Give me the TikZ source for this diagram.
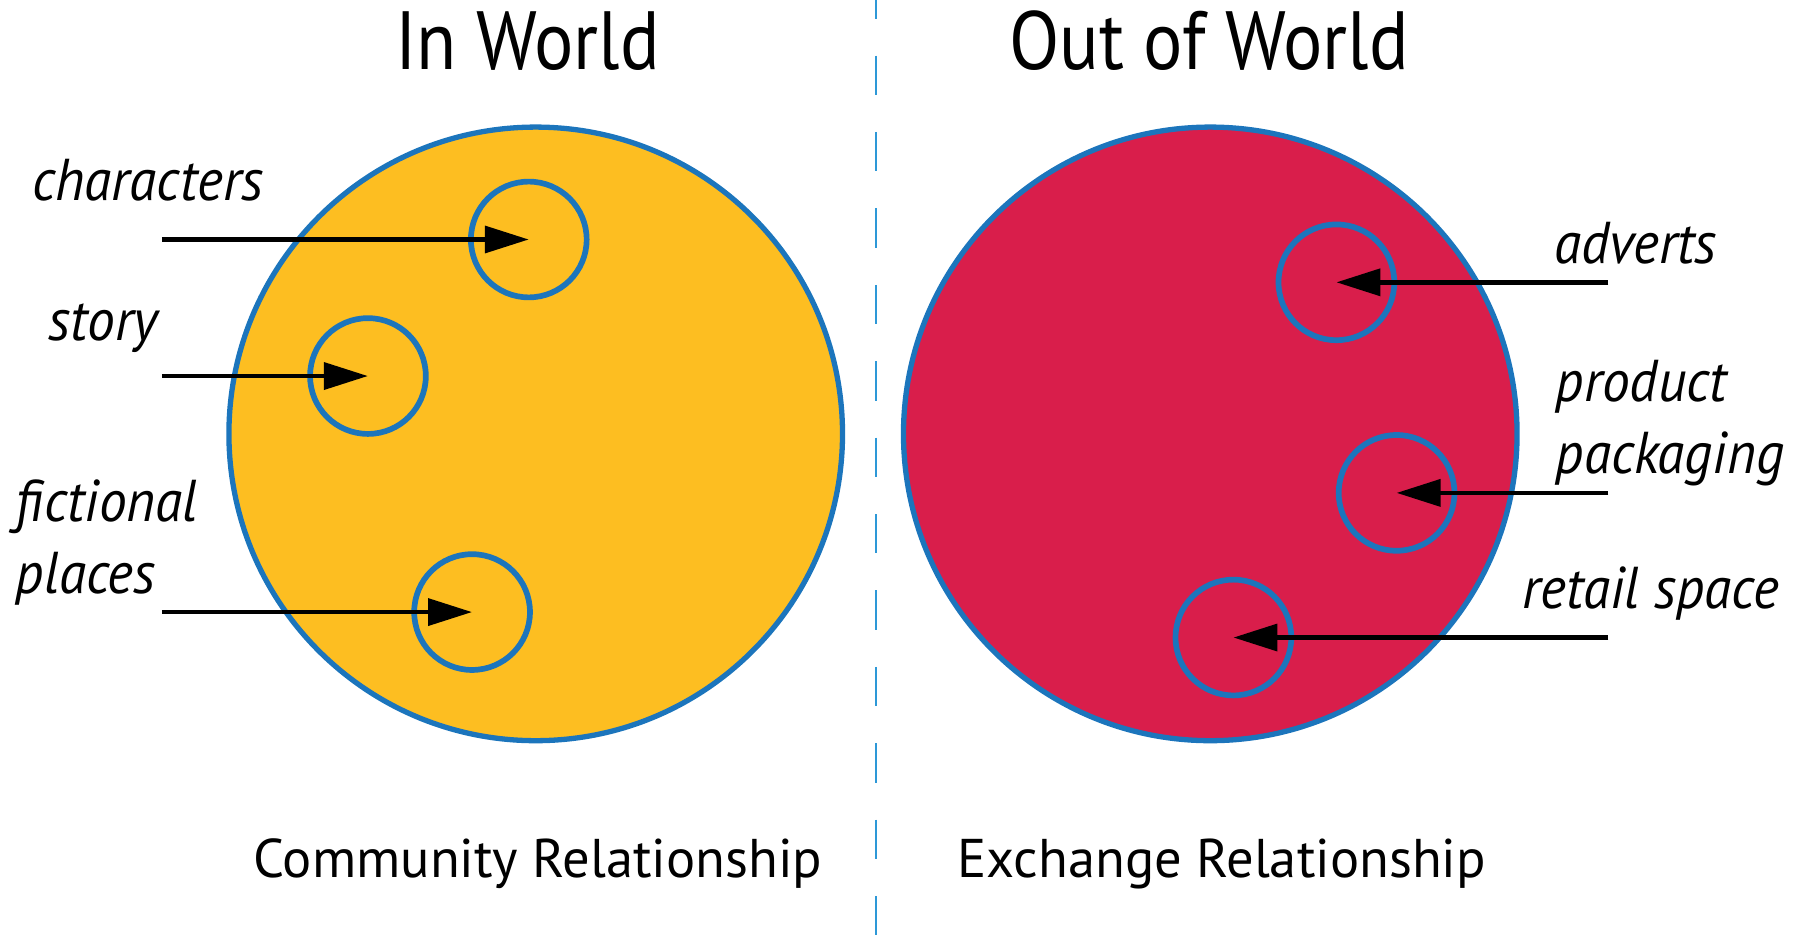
\documentclass[tikz,border=0pt]{standalone}
\usepackage{fontspec}
\setmainfont{PT Sans}
\newfontfamily\headfont{PT Sans}[FakeStretch=0.89]
\newfontfamily\lblfont{PT Sans}[FakeStretch=0.94]
\usetikzlibrary{arrows.meta}
\definecolor{ringblue}{RGB}{28,117,188}
\definecolor{dashblue}{RGB}{45,152,215}
\definecolor{inyellow}{RGB}{253,190,33}
\definecolor{outred}{RGB}{217,30,75}
\begin{document}
\begin{tikzpicture}[x=0.01cm,y=-0.01cm,
  world/.style={circle,draw=ringblue,line width=1.3pt,minimum size=5.3cm,inner sep=0pt},
  spot/.style={circle,draw=ringblue,line width=1.4pt,minimum size=1cm,inner sep=0pt},
  pointer/.style={line width=1.15pt,-{Triangle[length=0.38cm,width=0.23cm]}},
  lbl/.style={anchor=base west,inner sep=0pt,align=left,font=\lblfont\fontsize{14.5}{17.6}\selectfont\itshape},
  head/.style={anchor=base,inner sep=0pt,font=\headfont\fontsize{20.3}{24}\selectfont},
  foot/.style={anchor=base,inner sep=0pt,font=\fontsize{13.4}{16}\selectfont}]
\useasboundingbox (0,0) rectangle (1560,810);
% divider
\coordinate (top) at (757,0);
\coordinate (bot) at (757,810);
\draw[dashblue,line width=0.6pt,dash pattern=on 0.34cm off 0.32cm,dash phase=0.18cm] (top) -- (bot);
% the two worlds
\node[world,fill=inyellow] (inworld) at (463,375) {};
\node[world,fill=outred] (outworld) at (1046,375) {};
\node[head] (inttl) at (456,60) {In World};
\node[head] (outttl) at (1045,60) {Out of World};
\node[foot] (community) at (465,758) {Community Relationship};
\node[foot] (exchange) at (1056,758) {Exchange Relationship};
% in world
\node[spot] (characters) at (457,207) {};
\node[spot] (story) at (318,325) {};
\node[spot] (places) at (408,529) {};
\node[lbl] (chlbl) at (27,173) {characters};
\node[lbl] (stlbl) at (41,294) {story};
\node[lbl] (pllbl) at (13,513) {fictional\\places};
\coordinate (chfrom) at (140,207);
\coordinate (stfrom) at (140,325);
\coordinate (plfrom) at (140,529);
\draw[pointer] (chfrom) -- (characters.center);
\draw[pointer] (stfrom) -- (story.center);
\draw[pointer] (plfrom) -- (places.center);
% out of world
\node[spot] (adverts) at (1155,244) {};
\node[spot] (packaging) at (1207,426) {};
\node[spot] (retail) at (1066,551) {};
\node[lbl] (adlbl) at (1343,228) {adverts};
\node[lbl] (pklbl) at (1344,409) {product\\packaging};
\node[lbl] (rtlbl) at (1315,526) {retail space};
\coordinate (adfrom) at (1390,244);
\coordinate (pkfrom) at (1390,426);
\coordinate (rtfrom) at (1390,551);
\draw[pointer] (adfrom) -- (adverts.center);
\draw[pointer] (pkfrom) -- (packaging.center);
\draw[pointer] (rtfrom) -- (retail.center);
\end{tikzpicture}
\end{document}
